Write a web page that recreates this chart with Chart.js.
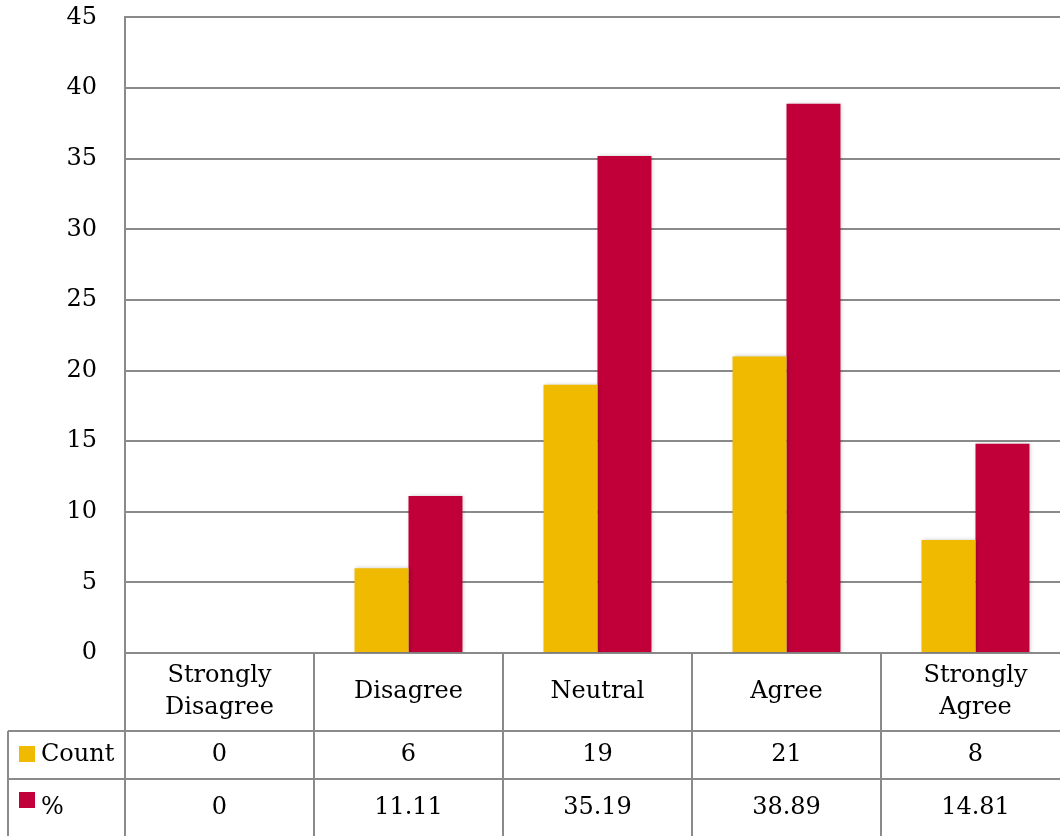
<!DOCTYPE html>
<html>
<head>
<meta charset="utf-8">
<script src="https://cdn.jsdelivr.net/npm/chart.js@4/dist/chart.umd.min.js"></script>
<style>
  html, body { margin: 0; padding: 0; background: #fff; overflow: hidden; }
  #wrap { width: 1070px; height: 836px; overflow: hidden; }
  #c { display: block; margin-top: -25px; }
</style>
</head>
<body>
<div id="wrap"><canvas id="c" width="1070" height="861"></canvas></div>
<script>
// Survey responses per answer option
const categories = [["Strongly", "Disagree"], "Disagree", "Neutral", "Agree", ["Strongly", "Agree"]];
const countValues = [0, 6, 19, 21, 8];
const percentValues = [0, 11.11, 35.19, 38.89, 14.81];
const seriesNames = ["Count", "%"];
const yTicks = { min: 0, max: 45, step: 5 };

const COLORS = ["#EFBA00", "#C1003A"];
const LINE = "#8a8a8a";
const FONT = "'DejaVu Serif', serif";

// Light drop shadow under the bars
const barShadow = {
  id: "barShadow",
  beforeDatasetsDraw(chart) {
    const ctx = chart.ctx;
    ctx.save();
    ctx.shadowColor = "rgba(0,0,0,0.22)";
    ctx.shadowBlur = 4;
    ctx.shadowOffsetX = 1;
    ctx.shadowOffsetY = 0;
  },
  afterDatasetsDraw(chart) { chart.ctx.restore(); }
};

// Data table beneath the plot: category header row plus one row per series
const dataTable = {
  id: "dataTable",
  afterDraw(chart) {
    const ctx = chart.ctx;
    const x = chart.scales.x;
    const area = chart.chartArea;
    const top = area.bottom;
    const rowHead = top + 78;
    const rowCount = rowHead + 48;
    const bottom = chart.height + 20;
    const tableLeft = 8;
    const right = area.right;
    const n = categories.length;
    const colW = (area.right - area.left) / n;

    ctx.save();
    ctx.strokeStyle = LINE;
    ctx.lineWidth = 2;
    ctx.beginPath();
    // horizontal rules
    ctx.moveTo(tableLeft, rowHead); ctx.lineTo(right, rowHead);
    ctx.moveTo(tableLeft, rowCount); ctx.lineTo(right, rowCount);
    // outer left edge of the legend column
    ctx.moveTo(tableLeft, rowHead); ctx.lineTo(tableLeft, bottom);
    // column separators
    for (let i = 0; i <= n; i++) {
      const xx = Math.round(area.left + i * colW);
      ctx.moveTo(xx, top); ctx.lineTo(xx, bottom);
    }
    ctx.stroke();

    ctx.fillStyle = "#000";
    ctx.font = "24px " + FONT;
    ctx.textAlign = "center";
    ctx.textBaseline = "middle";
    // category labels
    categories.forEach((c, i) => {
      const cx = x.getPixelForValue(i);
      const lines = Array.isArray(c) ? c : [c];
      const lh = 32;
      const mid = (top + rowHead) / 2;
      lines.forEach((t, k) => {
        ctx.fillText(t, cx, mid + (k - (lines.length - 1) / 2) * lh);
      });
    });
    // series rows
    const rows = [countValues, percentValues];
    const rowMid = [rowHead + 24, rowCount + 29];
    rows.forEach((vals, r) => {
      vals.forEach((v, i) => {
        ctx.textAlign = "center";
        ctx.fillText(String(v), x.getPixelForValue(i), rowMid[r]);
      });
      // legend key + name
      ctx.fillStyle = COLORS[r];
      const sy = r === 0 ? rowHead + 15 : rowCount + 13;
      ctx.fillRect(19, sy, 16, 16);
      ctx.fillStyle = "#000";
      ctx.textAlign = "left";
      ctx.fillText(seriesNames[r], 41, rowMid[r]);
    });
    ctx.restore();
  }
};

new Chart(document.getElementById("c"), {
  type: "bar",
  data: {
    labels: categories,
    datasets: [
      { label: seriesNames[0], data: countValues, backgroundColor: COLORS[0] },
      { label: seriesNames[1], data: percentValues, backgroundColor: COLORS[1] }
    ]
  },
  options: {
    responsive: false,
    animation: false,
    layout: { padding: { top: 0, bottom: 183, left: 0, right: 0 } },
    datasets: { bar: { categoryPercentage: 0.571, barPercentage: 1.0 } },
    plugins: { legend: { display: false }, tooltip: { enabled: false } },
    scales: {
      x: { display: false },
      y: {
        min: yTicks.min,
        max: yTicks.max,
        afterFit(scale) { scale.width = 125; },
        border: { display: true, color: LINE, width: 2 },
        grid: { color: LINE, lineWidth: 2, drawTicks: false },
        ticks: {
          stepSize: yTicks.step,
          padding: 28,
          color: "#000",
          font: { family: FONT, size: 24 }
        }
      }
    }
  },
  plugins: [barShadow, dataTable]
});
</script>
</body>
</html>
